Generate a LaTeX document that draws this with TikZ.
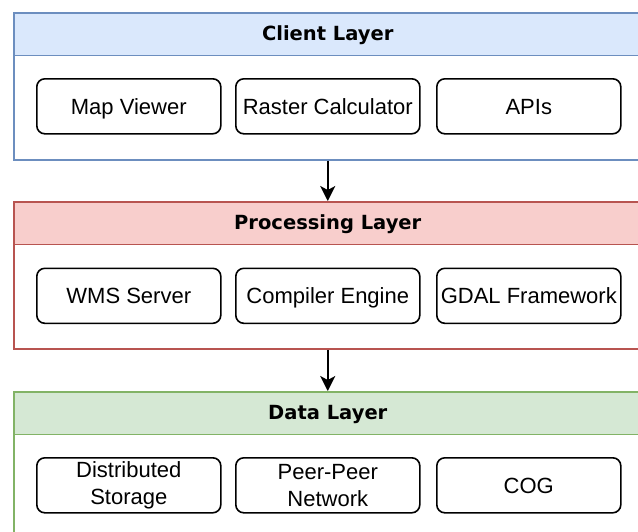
\documentclass[tikz,border=0pt]{standalone}
\usepackage{fontspec}
\setmainfont{Liberation Sans}
\newfontfamily\hdrfont{DejaVu Sans}
\usetikzlibrary{arrows.meta}
\definecolor{bluefill}{HTML}{DAE8FC}
\definecolor{bluedraw}{HTML}{6C8EBF}
\definecolor{redfill}{HTML}{F8CECC}
\definecolor{reddraw}{HTML}{B85450}
\definecolor{greenfill}{HTML}{D5E8D4}
\definecolor{greendraw}{HTML}{82B366}
\tikzset{
  layer/.style={draw=#1, fill=white, line width=1.8pt, minimum width=628.3pt, minimum height=147pt, inner sep=0pt, anchor=north west},
  header/.style 2 args={fill=#1, draw=#2, line width=1.8pt, minimum width=628.3pt, minimum height=42.5pt, inner sep=0pt, anchor=north west, text height=13.5pt, text depth=0pt, font=\hdrfont\bfseries\fontsize{19.5}{22}\selectfont},
  comp/.style={draw=black, line width=1.6pt, rounded corners=8pt, fill=white, minimum width=184pt, minimum height=55pt, inner sep=0pt, align=center, font=\fontsize{22}{27}\selectfont, anchor=north west},
  comp1/.style={comp, text height=15.8pt, text depth=0pt},
  flow/.style={-{Stealth[length=15pt,width=15pt,inset=4pt]}, line width=1.8pt}
}
\begin{document}
\begin{tikzpicture}[x=1pt,y=-1pt]
\useasboundingbox (0,0) rectangle (638,531);
\clip (0,0) rectangle (638,531);
% Client layer
\node[layer=bluedraw] (client) at (12.7,12) {};
\node[header={bluefill}{bluedraw}] (clienth) at (12.7,12) {Client Layer};
\node[comp1] (mapviewer) at (36,78) {Map Viewer};
\node[comp1] (rastercalc) at (235,78) {Raster Calculator};
\node[comp1] (apis) at (436,78) {APIs};
% Processing layer
\node[layer=reddraw] (proc) at (12.7,201) {};
\node[header={redfill}{reddraw}] (proch) at (12.7,201) {Processing Layer};
\node[comp1] (wms) at (36,267.5) {WMS Server};
\node[comp1] (compiler) at (235,267.5) {Compiler Engine};
\node[comp1] (gdal) at (436,267.5) {GDAL Framework};
% Data layer
\node[layer=greendraw] (data) at (12.7,391) {};
\node[header={greenfill}{greendraw}] (datah) at (12.7,391) {Data Layer};
\node[comp] (storage) at (36,457) {Distributed\\Storage};
\node[comp] (p2p) at (235,457) {Peer-Peer\\Network};
\node[comp1] (cog) at (436,457) {COG};
% connectors
\draw[flow] (client.south) -- (proch.north);
\draw[flow] (proc.south) -- (datah.north);
\end{tikzpicture}
\end{document}
